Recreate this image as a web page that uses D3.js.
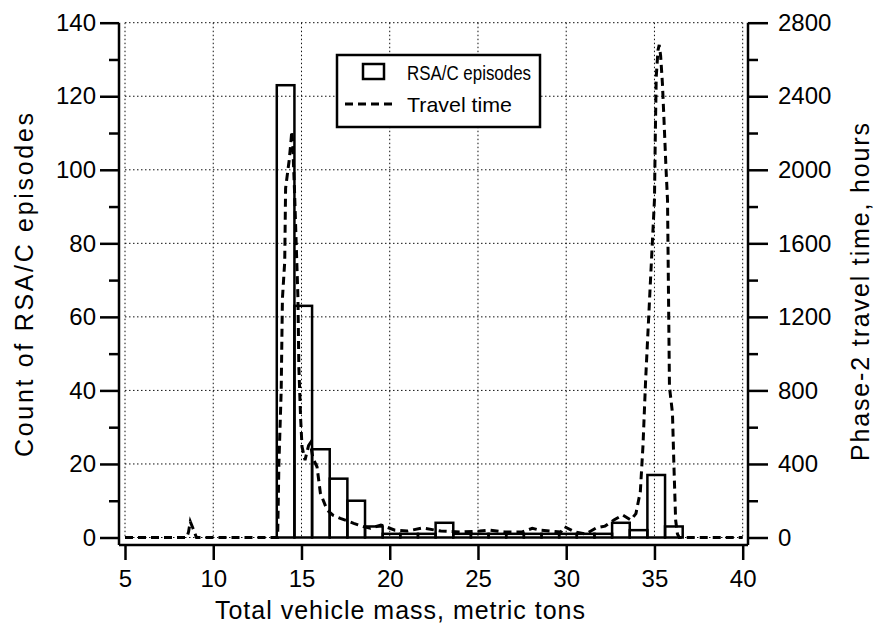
<!DOCTYPE html>
<html><head><meta charset="utf-8">
<script src="https://cdn.jsdelivr.net/npm/d3@7"></script>
<style>
body{margin:0;background:#fff}
text{font-family:"Liberation Sans",Arial,Helvetica,sans-serif;fill:#000}
</style>
</head><body>
<svg id="chart" width="875" height="637"></svg>
<script>
// ---- data ----
const binStarts = [13.6,14.6,15.6,16.6,17.6,18.6,19.6,20.6,21.6,22.6,23.6,24.6,25.6,26.6,27.6,28.6,29.6,30.6,31.6,32.6,33.6,34.6,35.6];
const episodeCounts = [123,63,24,16,10,3,1,1,1,4,1,1,1,1,1,1,1,1,1,4,2,17,3];
const binWidth = 1;

const travelMass = [5,8.5,8.6,8.7,8.85,9.05,13.5,13.65,13.72,13.85,13.92,14.05,14.1,14.3,14.4,14.45,14.5,14.6,14.7,14.8,14.85,14.95,15.03,15.2,15.4,15.5,15.65,15.88,16.07,16.45,16.8,17.2,17.6,17.96,18.5,18.9,19.5,20.3,21.0,21.85,22.9,24.0,25.1,25.7,26.5,27.5,28.08,28.5,29.1,29.7,29.9,30.5,31.1,31.7,32.2,32.7,33.2,33.66,33.95,34.2,34.35,34.5,34.75,35.0,35.05,35.1,35.2,35.27,35.35,35.45,35.55,35.65,35.74,35.85,36.02,36.1,36.2,36.3,36.4,40];
const travelHours = [0,0,30,86,50,0,0,0,400,800,1300,1500,1900,2050,2150,2210,2150,1900,1600,1300,930,650,494,421,500,514,430,385,242,150,120,104,90,77,60,50,68,40,35,52,35,30,35,40,30,30,50,40,35,30,59,30,19,52,62,95,122,95,130,250,500,857,1350,1836,2200,2505,2650,2679,2620,2471,2250,2017,1836,820,677,400,95,20,0,0];

const xTickValues = [5,10,15,20,25,30,35,40];
const countTickValues = [0,20,40,60,80,100,120,140];
const countMinorTicks = [10,30,50,70,90,110,130];
const hourTickValues = [0,400,800,1200,1600,2000,2400,2800];
const hourMinorTicks = [200,600,1000,1400,1800,2200,2600];

const xTitle = "Total vehicle mass, metric tons";
const yLeftTitle = "Count of RSA/C episodes";
const yRightTitle = "Phase-2 travel time, hours";
const legendLabels = ["RSA/C episodes","Travel time"];

// ---- layout ----
const frame = {left:119, right:748, top:22.7, bottom:545};
const svg = d3.select("#chart");

const x = d3.scaleLinear().domain([5,40]).range([125,742.7]);
const yL = d3.scaleLinear().domain([0,140]).range([537.5,22.7]);
const yR = d3.scaleLinear().domain([0,2800]).range([537.5,22.7]);

// gridlines
const grid = svg.append("g").attr("stroke","#111").attr("stroke-width",1).attr("stroke-dasharray","1.5,2.5");
grid.selectAll("line.v").data(xTickValues).join("line").attr("class","v")
  .attr("x1",d=>x(d)).attr("x2",d=>x(d)).attr("y1",yL(140)).attr("y2",yL(0));
grid.selectAll("line.h").data(countTickValues).join("line").attr("class","h")
  .attr("x1",x(5)).attr("x2",x(40)).attr("y1",d=>yL(d)).attr("y2",d=>yL(d));

// bars
svg.append("g").selectAll("rect").data(binStarts).join("rect")
  .attr("x",(d)=>x(d)).attr("width",(d)=>x(d+binWidth)-x(d))
  .attr("y",(d,i)=>yL(episodeCounts[i])).attr("height",(d,i)=>yL(0)-yL(episodeCounts[i]))
  .attr("fill","none").attr("stroke","#000").attr("stroke-width",2.5);

// travel time line
const pts = travelMass.map((m,i)=>[m,travelHours[i]]);
const line = d3.line().x(d=>x(d[0])).y(d=>yR(d[1]));
svg.append("path").datum(pts).attr("d",line).attr("fill","none")
  .attr("stroke","#000").attr("stroke-width",3).attr("stroke-dasharray","8,5");

// axes
function styleAxis(g){
  g.select(".domain").remove();
  g.selectAll(".tick line").attr("stroke","#000").attr("stroke-width",2.5);
  g.selectAll(".tick text").style("font-size","24px").attr("fill","#000");
}
svg.append("g").attr("transform",`translate(${frame.left},0)`)
  .call(d3.axisLeft(yL).tickValues(countTickValues).tickSize(19).tickPadding(4).tickFormat(d3.format("d"))).call(styleAxis);
svg.append("g").attr("transform",`translate(${frame.left},0)`)
  .call(d3.axisLeft(yL).tickValues(countMinorTicks).tickSize(10).tickFormat("")).call(styleAxis);
svg.append("g").attr("transform",`translate(${frame.right},0)`)
  .call(d3.axisRight(yR).tickValues(hourTickValues).tickSize(20).tickPadding(10).tickFormat(d3.format("d"))).call(styleAxis);
svg.append("g").attr("transform",`translate(${frame.right},0)`)
  .call(d3.axisRight(yR).tickValues(hourMinorTicks).tickSize(10).tickFormat("")).call(styleAxis);
svg.append("g").attr("transform",`translate(0,${frame.bottom})`)
  .call(d3.axisBottom(x).tickValues(xTickValues).tickSize(15).tickPadding(10).tickFormat(d3.format("d"))).call(styleAxis);

// axis lines
const axLines = svg.append("g").attr("stroke","#000").attr("stroke-width",2.5);
axLines.append("line").attr("x1",frame.left).attr("x2",frame.left).attr("y1",frame.top).attr("y2",frame.bottom);
axLines.append("line").attr("x1",frame.right).attr("x2",frame.right).attr("y1",frame.top).attr("y2",frame.bottom);
axLines.append("line").attr("x1",frame.left).attr("x2",frame.right).attr("y1",frame.bottom).attr("y2",frame.bottom);

// titles
svg.append("text").attr("x",400).attr("y",619).attr("text-anchor","middle")
  .attr("textLength",370).attr("lengthAdjust","spacing")
  .style("font-size","25px").text(xTitle);
svg.append("text").attr("transform","translate(33,285) rotate(-90)").attr("text-anchor","middle")
  .attr("textLength",344).attr("lengthAdjust","spacing")
  .style("font-size","25px").text(yLeftTitle);
svg.append("text").attr("transform","translate(869,292) rotate(-90)").attr("text-anchor","middle")
  .attr("textLength",338).attr("lengthAdjust","spacing")
  .style("font-size","25px").text(yRightTitle);

// legend
const lg = svg.append("g");
lg.append("rect").attr("x",337).attr("y",55).attr("width",203).attr("height",72)
  .attr("fill","#fff").attr("stroke","#000").attr("stroke-width",2.5);
lg.append("rect").attr("x",363).attr("y",64).attr("width",21).attr("height",15)
  .attr("fill","none").attr("stroke","#000").attr("stroke-width",2.5);
lg.append("line").attr("x1",345).attr("x2",393).attr("y1",104).attr("y2",104)
  .attr("stroke","#000").attr("stroke-width",3).attr("stroke-dasharray","8,5");
lg.append("text").attr("x",407).attr("y",80).style("font-size","21px")
  .attr("textLength",124).attr("lengthAdjust","spacingAndGlyphs").text(legendLabels[0]);
lg.append("text").attr("x",407).attr("y",112).style("font-size","21px")
  .attr("textLength",105).attr("lengthAdjust","spacingAndGlyphs").text(legendLabels[1]);
</script>
</body></html>
